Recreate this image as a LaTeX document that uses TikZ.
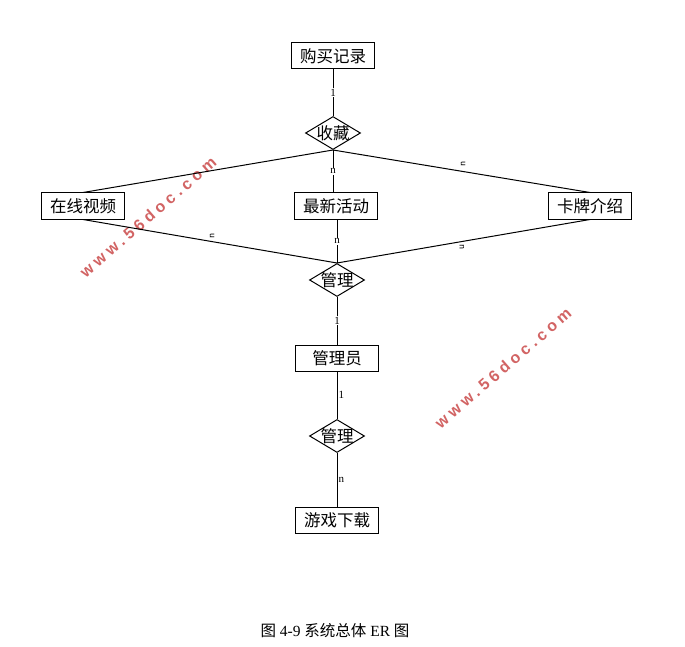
\documentclass[tikz,border=0pt]{standalone}
\usepackage{fontspec}
\setmainfont{Liberation Serif}
\newfontfamily\cjk{Noto Sans CJK SC}
\newfontfamily\wmfont[LetterSpace=26]{Liberation Sans}
\usetikzlibrary{shapes.geometric}
\definecolor{wmred}{RGB}{210,100,100}
\begin{document}
\begin{tikzpicture}[x=1pt,y=-1pt,
  ent/.style={draw,line width=1pt,minimum width=83pt,minimum height=26pt,inner sep=1pt,font=\cjk\fontsize{16.5}{16.5}\selectfont},
  rel/.style={draw,line width=1pt,diamond,minimum width=55pt,minimum height=33pt,inner sep=0pt},
  reltext/.style={font=\cjk\fontsize{16.5}{16.5}\selectfont},
  conn/.style={line width=1pt},
  card/.style={fill=white,inner sep=1pt,font=\fontsize{11}{11}\selectfont},
  cardr/.style={inner sep=1pt,font=\fontsize{11}{11}\selectfont},
  cardt/.style={inner sep=0pt,font=\sffamily\fontsize{10}{10}\selectfont},
  wm/.style={text=wmred,font=\wmfont\bfseries\fontsize{16}{16}\selectfont,rotate=41}
]
\useasboundingbox (0,0) rectangle (685,647);
\fill[white] (0,0) rectangle (685,647);

% watermarks
\node[wm] (wm1) at (148,217) {www.56doc.com};
\node[wm] (wm2) at (503,368) {www.56doc.com};

% entities
\node[ent] (gm) at (333,56) {购买记录};
\node[ent] (zx) at (83,206) {在线视频};
\node[ent] (zh) at (336,206) {最新活动};
\node[ent] (kp) at (590,206) {卡牌介绍};
\node[ent] (gly) at (337,358) {管理员};
\node[ent] (yx) at (337,520) {游戏下载};

% relationships
\node[rel] (sc) at (333,133) {};
\node[reltext] at (sc.center) {收藏};
\node[rel] (gl1) at (337,280) {};
\node[reltext] at (gl1.center) {管理};
\node[rel] (gl2) at (337,436) {};
\node[reltext] at (gl2.center) {管理};

% connectors
\draw[conn] (gm.south) -- node[card] (c1) {1} (sc.north);
\draw[conn] (sc.south) -- (zx.north);
\draw[conn] (sc.south) -- node[card] (c2) {n} (zh.north -| sc.south);
\draw[conn] (sc.south) -- (kp.north);
\draw[conn] (zx.south) -- (gl1.north);
\draw[conn] (zh.south -| gl1.north) -- node[card] (c4) {n} (gl1.north);
\draw[conn] (kp.south) -- (gl1.north);
\draw[conn] (gl1.south) -- node[card] (c5) {1} (gly.north);
\draw[conn] (gly.south) -- node[cardr,right] (c6) {1} (gl2.north);
\draw[conn] (gl2.south) -- node[cardr,right] (c7) {n} (yx.north);

% small rotated cardinalities
\node[cardt,rotate=90] (r1) at (212,236) {n};
\node[cardt,rotate=90] (r2) at (463,164) {n};
\node[cardt,rotate=-90] (r3) at (462,247) {n};

% caption
\node[font=\fontsize{15.5}{15.5}\selectfont] (cap) at (335,631) {{\cjk 图} 4-9 {\cjk 系统总体} ER {\cjk 图}};
\end{tikzpicture}
\end{document}
